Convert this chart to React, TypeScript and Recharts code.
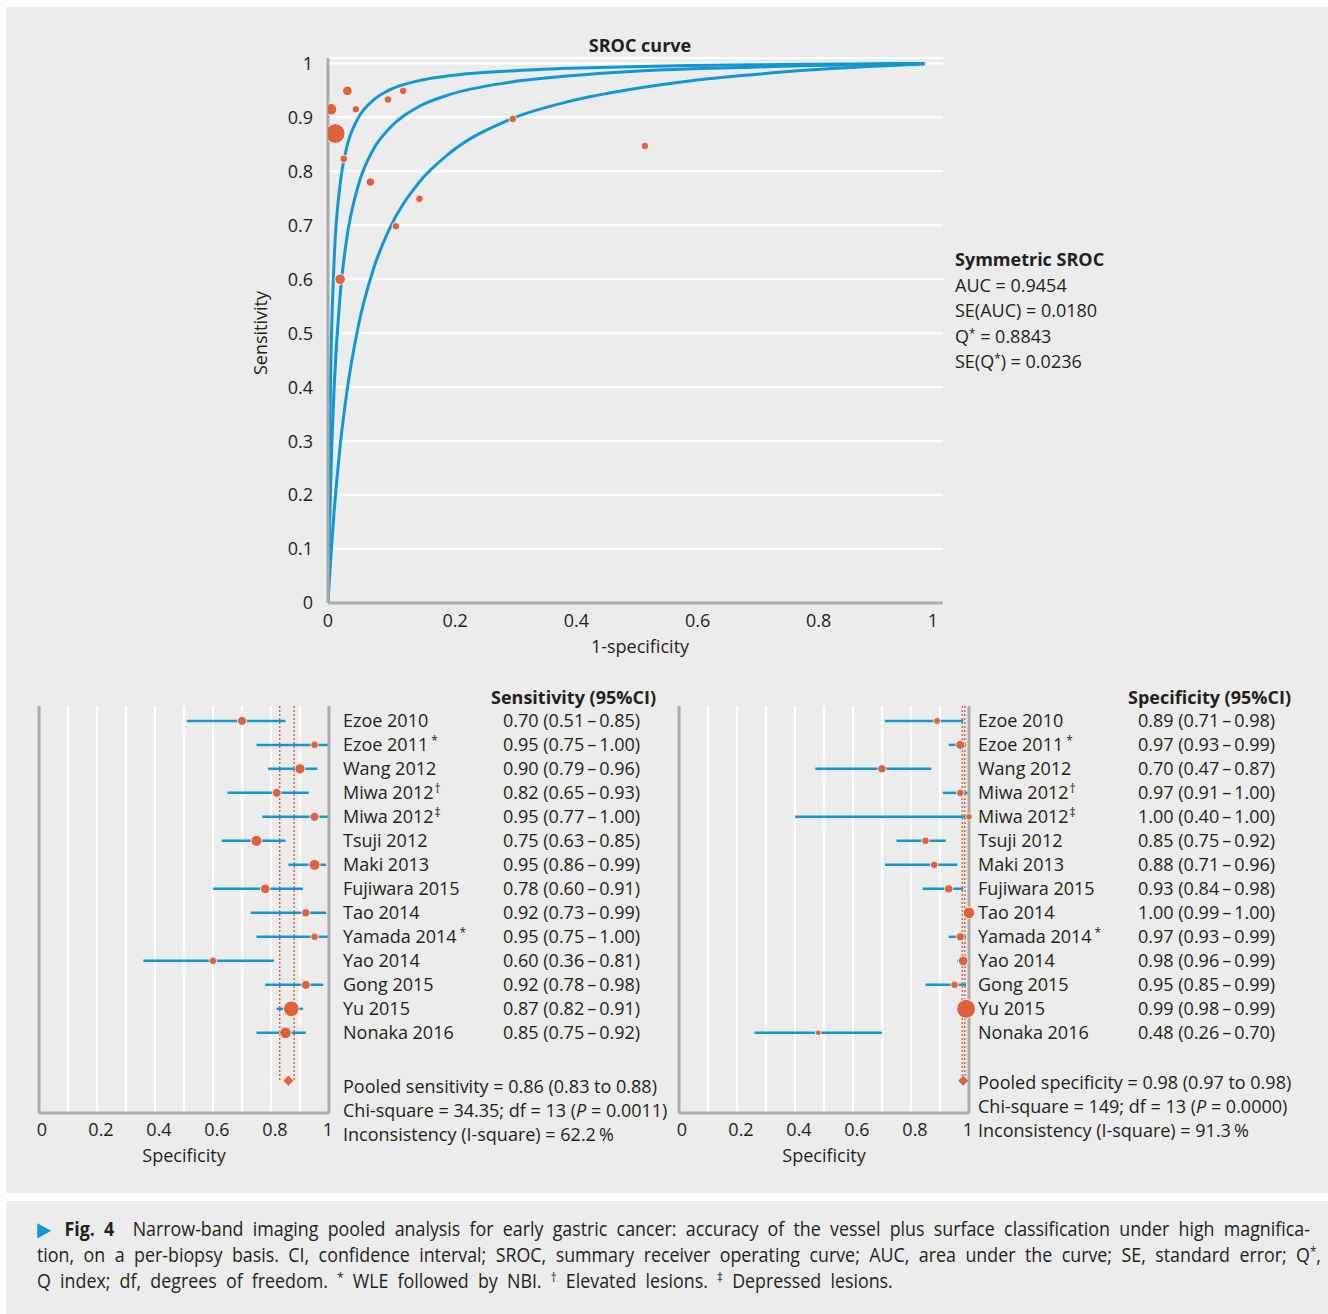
import React from "react";
import {
  ComposedChart, ScatterChart, Line, Scatter, XAxis, YAxis,
  CartesianGrid, ReferenceLine,
} from "recharts";

const BLUE = "#1097d6";
const ORANGE = "#e0623a";
const PANEL = "#ebeceb";
const AXIS = "#a9abad";
const INK = "#231f20";
const FONT = "'Open Sans', sans-serif";

// SROC curves (x = 1-specificity)
const CURVE_X = [0, 0.002, 0.005, 0.01, 0.02, 0.03, 0.05, 0.075, 0.1, 0.15, 0.2, 0.3, 0.4, 0.5, 0.6, 0.7, 0.8, 0.9, 0.985];
const CURVE_UPPER = [0, 0.254, 0.461, 0.632, 0.776, 0.84, 0.899, 0.932, 0.95, 0.968, 0.977, 0.986, 0.991, 0.994, 0.996, 0.9975, 0.9985, 0.9993, 1];
const CURVE_MID = [0, 0.115, 0.246, 0.396, 0.57, 0.668, 0.774, 0.841, 0.878, 0.92, 0.942, 0.965, 0.977, 0.985, 0.99, 0.993, 0.996, 0.998, 1];
const CURVE_LOWER = [0, 0.039, 0.091, 0.168, 0.29, 0.382, 0.513, 0.619, 0.69, 0.779, 0.833, 0.896, 0.93, 0.952, 0.968, 0.979, 0.988, 0.9945, 0.999];

// study points on the SROC plane
const STUDY_FPR = [0.032, 0.005, 0.046, 0.012, 0.026, 0.099, 0.124, 0.305, 0.523, 0.07, 0.151, 0.112, 0.02];
const STUDY_TPR = [0.949, 0.915, 0.915, 0.87, 0.823, 0.933, 0.949, 0.897, 0.847, 0.78, 0.749, 0.698, 0.6];
const STUDY_WEIGHT = [16, 25, 9, 81, 9, 9, 9, 9, 9, 12, 9, 9, 20];

const SROC_X_TICKS = [0, 0.2, 0.4, 0.6, 0.8, 1];
const SROC_Y_TICKS = [0, 0.1, 0.2, 0.3, 0.4, 0.5, 0.6, 0.7, 0.8, 0.9, 1];
const FOREST_X_TICKS = [0, 0.1, 0.2, 0.3, 0.4, 0.5, 0.6, 0.7, 0.8, 0.9, 1];

const STUDIES = ["Ezoe 2010", "Ezoe 2011", "Wang 2012", "Miwa 2012", "Miwa 2012", "Tsuji 2012", "Maki 2013",
  "Fujiwara 2015", "Tao 2014", "Yamada 2014", "Yao 2014", "Gong 2015", "Yu 2015", "Nonaka 2016"];
const MARKS = ["", "*", "", "†", "‡", "", "", "", "", "*", "", "", "", ""];

const SENS = [0.70, 0.95, 0.90, 0.82, 0.95, 0.75, 0.95, 0.78, 0.92, 0.95, 0.60, 0.92, 0.87, 0.85];
const SENS_LO = [0.51, 0.75, 0.79, 0.65, 0.77, 0.63, 0.86, 0.60, 0.73, 0.75, 0.36, 0.78, 0.82, 0.75];
const SENS_HI = [0.85, 1.00, 0.96, 0.93, 1.00, 0.85, 0.99, 0.91, 0.99, 1.00, 0.81, 0.98, 0.91, 0.92];
const SENS_WEIGHT = [13.7, 9, 18.5, 13.7, 13.7, 22, 22, 16, 11, 9, 9, 13.7, 49, 25];

const SPEC = [0.89, 0.97, 0.70, 0.97, 1.00, 0.85, 0.88, 0.93, 1.00, 0.97, 0.98, 0.95, 0.99, 0.48];
const SPEC_LO = [0.71, 0.93, 0.47, 0.91, 0.40, 0.75, 0.71, 0.84, 0.99, 0.93, 0.96, 0.85, 0.98, 0.26];
const SPEC_HI = [0.98, 0.99, 0.87, 1.00, 1.00, 0.92, 0.96, 0.98, 1.00, 0.99, 0.99, 0.99, 0.99, 0.70];
const SPEC_WEIGHT = [7.3, 13.7, 11, 9, 6.3, 9, 9, 11, 25, 11, 16, 9, 75, 4];

const POOLED_SENS = 0.86;
const POOLED_SENS_CI = [0.83, 0.88];
const POOLED_SPEC = 0.98;
const POOLED_SPEC_CI = [0.977, 0.986];
const POOLED_ROW = 15;

const fmt = (v: number) => v.toFixed(2);

const dot = (p: any) => (
  <circle cx={p.cx} cy={p.cy} r={Math.sqrt(p.payload.w) + 0.8} fill={ORANGE} stroke="#fff" strokeWidth={0.8} />
);

const diamond = (p: any) => (
  <polygon
    points={`${p.cx},${p.cy - 5} ${p.cx + 5},${p.cy} ${p.cx},${p.cy + 5} ${p.cx - 5},${p.cy}`}
    fill={ORANGE}
  />
);

function SrocXTick({ x, y, payload }: any) {
  const v = payload.value;
  const dx = v === 0 ? 0 : v === 1 ? -1 : 6;
  return (
    <text x={x + dx} y={y} dy="0.35em" textAnchor="middle" fill={INK} fontSize={18} fontFamily={FONT}>
      {String(v)}
    </text>
  );
}

function ForestXTick({ x, y, payload }: any) {
  const v = payload.value;
  if (Math.round(v * 10) % 2 !== 0) return <g />;
  const dx = v === 0 ? 3 : v === 1 ? -1 : 4;
  return (
    <text x={x + dx} y={y} dy="0.35em" textAnchor="middle" fill={INK} fontSize={18} fontFamily={FONT}>
      {String(v)}
    </text>
  );
}

function RowTick(props: any) {
  const { x, y, payload, values, nameDx, valDx, stats, statDy } = props;
  const i = payload.value;
  const txt = { fill: INK, fontSize: 18, fontFamily: FONT, dy: "0.35em" };
  if (i === POOLED_ROW) {
    return (
      <g>
        {stats.map((s: any, k: number) => (
          <text key={k} x={x + nameDx} y={y + statDy + k * 24} {...txt}>{s}</text>
        ))}
      </g>
    );
  }
  return (
    <g>
      <text x={x + nameDx} y={y} {...txt}>
        {STUDIES[i]}
        {MARKS[i] && (
          <tspan dx={MARKS[i] === "*" ? 3 : 1} dy={-6} fontSize={12}>{MARKS[i]}</tspan>
        )}
      </text>
      <text x={x + valDx} y={y} {...txt}>{values[i]}</text>
    </g>
  );
}

function Forest({ est, lo, hi, weight, pooled, ci, nameDx, valDx, statDy, stats, width }: any) {
  const rows = est.map((v: number, i: number) => ({ x: v, y: i, w: weight[i] }));
  const values = est.map((v: number, i: number) => `${fmt(v)} (${fmt(lo[i])}\u2009–\u2009${fmt(hi[i])})`);
  const ticks = [...STUDIES.map((_, i) => i), POOLED_ROW];
  return (
    <ScatterChart width={width} height={477} margin={{ top: 10, right: 0, bottom: 0, left: 10 }}>
      <CartesianGrid horizontal={false} stroke="#fff" strokeWidth={2} />
      <XAxis
        type="number" dataKey="x" domain={[0, 1]} ticks={FOREST_X_TICKS} interval={0}
        tick={<ForestXTick />} tickLine={false} tickSize={0} tickMargin={17}
        axisLine={{ stroke: AXIS, strokeWidth: 3 }} height={60}
      />
      <YAxis
        type="number" dataKey="y" orientation="right" reversed domain={[-0.62, 16.34]}
        ticks={ticks} interval={0} width={width - 300} tickLine={false} tickSize={0} tickMargin={0}
        axisLine={{ stroke: AXIS, strokeWidth: 3 }}
        tick={<RowTick values={values} nameDx={nameDx} valDx={valDx} stats={stats} statDy={statDy} />}
      />
      <ReferenceLine x={0} stroke={AXIS} strokeWidth={3} />
      {ci.map((v: number) => (
        <ReferenceLine key={v} segment={[{ x: v, y: -0.62 }, { x: v, y: POOLED_ROW }]}
          stroke={ORANGE} strokeWidth={1.5} strokeDasharray="2 2" />
      ))}
      {rows.map((r: any, i: number) => (
        <ReferenceLine key={i} segment={[{ x: lo[i], y: i }, { x: hi[i], y: i }]} stroke={BLUE} strokeWidth={2.5} />
      ))}
      <Scatter data={rows} shape={dot} isAnimationActive={false} />
      <Scatter data={[{ x: pooled, y: POOLED_ROW }]} shape={diamond} isAnimationActive={false} />
    </ScatterChart>
  );
}

function Sroc() {
  const toPts = (ys: number[]) => CURVE_X.map((x, i) => ({ x, y: ys[i] }));
  const pts = STUDY_FPR.map((x, i) => ({ x, y: STUDY_TPR[i], w: STUDY_WEIGHT[i] }));
  return (
    <ComposedChart width={960} height={663} margin={{ top: 58, right: 17, bottom: 0, left: 0 }}>
      <CartesianGrid vertical={false} stroke="#fff" strokeWidth={2} />
      <XAxis
        type="number" dataKey="x" domain={[0, 1.015]} ticks={SROC_X_TICKS} interval={0}
        tick={<SrocXTick />} tickLine={false} tickSize={0} tickMargin={18}
        axisLine={{ stroke: AXIS, strokeWidth: 3 }} height={60} allowDataOverflow
      />
      <YAxis
        type="number" dataKey="y" domain={[0, 1.01]} ticks={SROC_Y_TICKS} interval={0} width={328}
        tickLine={false} tickSize={0} tickMargin={15} axisLine={{ stroke: AXIS, strokeWidth: 3 }}
        tick={{ fill: INK, fontSize: 18, fontFamily: FONT }} allowDataOverflow
      />
      <Line data={toPts(CURVE_UPPER)} dataKey="y" type="monotone" stroke={BLUE} strokeWidth={3} dot={false} isAnimationActive={false} />
      <Line data={toPts(CURVE_MID)} dataKey="y" type="monotone" stroke={BLUE} strokeWidth={3} dot={false} isAnimationActive={false} />
      <Line data={toPts(CURVE_LOWER)} dataKey="y" type="monotone" stroke={BLUE} strokeWidth={3} dot={false} isAnimationActive={false} />
      <Scatter data={pts} dataKey="y" shape={dot} isAnimationActive={false} />
    </ComposedChart>
  );
}

const abs = (left: number, top: number, extra: React.CSSProperties = {}): React.CSSProperties => ({
  position: "absolute", left, top, ...extra,
});

const sup: React.CSSProperties = { fontSize: "0.65em", verticalAlign: "0.45em", lineHeight: 0 };

// caption set narrow, like the condensed face of the original
const CAP_SCALE = 0.91;

export default function App() {
  const base: React.CSSProperties = { fontFamily: FONT, color: INK, fontSize: 18, lineHeight: "24px", whiteSpace: "nowrap" };
  return (
    <div style={{ position: "absolute", left: 0, top: 0, width: 1328, height: 1314, background: "#fff", fontFamily: FONT, color: INK, overflow: "hidden" }}>
      <div style={abs(6, 7, { width: 1322, height: 1186, background: PANEL })} />
      <div style={abs(6, 1201, { width: 1322, height: 113, background: PANEL })} />

      {/* SROC */}
      <div style={abs(0, 0)}><Sroc /></div>
      <div style={abs(540, 33, { ...base, width: 200, textAlign: "center", fontWeight: 700 })}>SROC curve</div>
      <div style={abs(560, 634, { ...base, width: 160, textAlign: "center" })}>1-specificity</div>
      <div style={abs(260, 333, { ...base, transform: "translate(-50%, -50%) rotate(-90deg)" })}>Sensitivity</div>
      <div style={abs(955, 247, { ...base, lineHeight: "25.5px" })}>
        <div style={{ fontWeight: 700 }}>Symmetric SROC</div>
        <div>AUC = 0.9454</div>
        <div>SE(AUC) = 0.0180</div>
        <div>Q<span style={sup}>*</span> = 0.8843</div>
        <div>SE(Q<span style={sup}>*</span>) = 0.0236</div>
      </div>

      {/* forest plots */}
      <div style={abs(29, 696)}>
        <Forest
          est={SENS} lo={SENS_LO} hi={SENS_HI} weight={SENS_WEIGHT} pooled={POOLED_SENS} ci={POOLED_SENS_CI}
          nameDx={14} valDx={174} statDy={6} width={648}
          stats={[
            "Pooled sensitivity = 0.86 (0.83 to 0.88)",
            <>Chi-square = 34.35; df = 13 (<tspan fontStyle="italic">P</tspan> = 0.0011)</>,
            "Inconsistency (I-square) = 62.2\u2009%",
          ]}
        />
      </div>
      <div style={abs(669, 696)}>
        <Forest
          est={SPEC} lo={SPEC_LO} hi={SPEC_HI} weight={SPEC_WEIGHT} pooled={POOLED_SPEC} ci={POOLED_SPEC_CI}
          nameDx={9} valDx={169} statDy={2} width={645}
          stats={[
            "Pooled specificity = 0.98 (0.97 to 0.98)",
            <>Chi-square = 149; df = 13 (<tspan fontStyle="italic">P</tspan> = 0.0000)</>,
            "Inconsistency (I-square) = 91.3\u2009%",
          ]}
        />
      </div>
      <div style={abs(491, 685, { ...base, fontWeight: 700 })}>Sensitivity (95%CI)</div>
      <div style={abs(1128, 685, { ...base, fontWeight: 700 })}>Specificity (95%CI)</div>
      <div style={abs(104, 1143, { ...base, width: 160, textAlign: "center" })}>Specificity</div>
      <div style={abs(744, 1143, { ...base, width: 160, textAlign: "center" })}>Specificity</div>

      {/* caption */}
      <div style={abs(37, 1216, { fontSize: 19.6, lineHeight: "26px", color: INK, transform: `scaleX(${CAP_SCALE})`, transformOrigin: "0 0" })}>
        <div style={{ width: 1273 / CAP_SCALE, textAlign: "justify", textAlignLast: "justify" }}>
          <span style={{ color: BLUE }}>▶</span> <b>Fig. 4</b>&nbsp; Narrow-band imaging pooled analysis for early gastric cancer: accuracy of the vessel plus surface classification under high magnifica-
        </div>
        <div style={{ width: 1284 / CAP_SCALE, textAlign: "justify", textAlignLast: "justify" }}>
          tion, on a per-biopsy basis. CI, confidence interval; SROC, summary receiver operating curve; AUC, area under the curve; SE, standard error; Q<span style={sup}>*</span>,
        </div>
        <div style={{ wordSpacing: 5, whiteSpace: "nowrap" }}>
          Q index; df, degrees of freedom. <span style={sup}>*</span> WLE followed by NBI. <span style={sup}>†</span> Elevated lesions. <span style={sup}>‡</span> Depressed lesions.
        </div>
      </div>
    </div>
  );
}
